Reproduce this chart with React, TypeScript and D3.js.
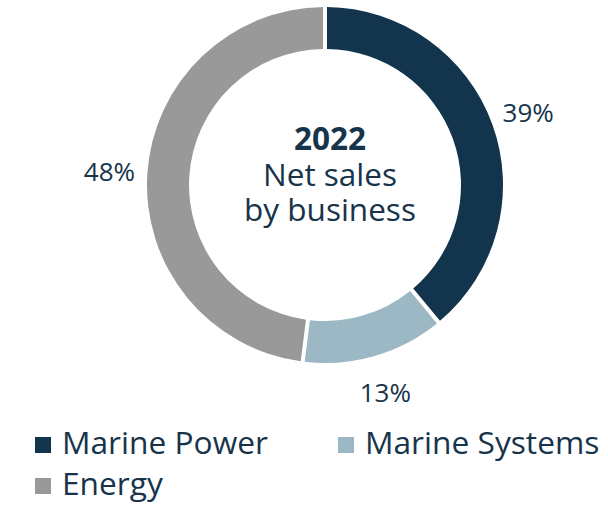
import React from "react";
import * as d3 from "d3";

const categories = ["Marine Power", "Marine Systems", "Energy"];
const values = [39, 13, 48];
const colors = ["#12344d", "#9bb8c4", "#999999"];
const centerLines = ["2022", "Net sales", "by business"];

const W = 608;
const H = 508;
const TEXT = "#17344b";
const FONT = "'Open Sans', 'Noto Sans', sans-serif";

export default function App() {
  const cx = 325;
  const cy = 185;
  const outer = 178;
  const inner = 136;
  const labelR = 216;

  const pie = d3
    .pie<number>()
    .sort(null)
    .value((d) => d)
    .startAngle(0)
    .endAngle(2 * Math.PI);
  const arcs = pie(values);
  const arc = d3
    .arc<d3.PieArcDatum<number>>()
    .innerRadius(inner)
    .outerRadius(outer)
    .padAngle(0.02)
    .padRadius(200);
  const labelArc = d3
    .arc<d3.PieArcDatum<number>>()
    .innerRadius(labelR)
    .outerRadius(labelR);

  const legendX = d3.scaleOrdinal<number>().domain(categories).range([35, 338, 35]);
  const legendY = d3.scaleOrdinal<number>().domain(categories).range([454, 454, 495]);
  const centerY = d3.scaleOrdinal<number>().domain(centerLines).range([149.5, 186, 221]);

  return (
    <svg
      width={W}
      height={H}
      style={{ position: "absolute", left: 0, top: 0, background: "#fff" }}
      fontFamily={FONT}
    >
      <g transform={`translate(${cx},${cy})`}>
        {arcs.map((a, i) => (
          <path key={categories[i]} d={arc(a) || ""} fill={colors[i]} />
        ))}
        {arcs.map((a, i) => {
          const [lx, ly] = labelArc.centroid(a);
          return (
            <text
              key={"l" + i}
              x={lx}
              y={ly}
              textAnchor="middle"
              dominantBaseline="central"
              fontSize={26}
              fill={TEXT}
            >
              {values[i]}%
            </text>
          );
        })}
      </g>
      {centerLines.map((t, i) => (
        <text
          key={t}
          x={330}
          y={centerY(t)}
          textAnchor="middle"
          fontSize={31.5}
          fontWeight={i === 0 ? 700 : 400}
          fill={TEXT}
        >
          {t}
        </text>
      ))}
      {categories.map((c, i) => (
        <g key={c}>
          <rect x={legendX(c)} y={legendY(c) - 17} width={16} height={16} fill={colors[i]} />
          <text x={legendX(c) + 27} y={legendY(c)} fontSize={31.7} fill={TEXT}>
            {c}
          </text>
        </g>
      ))}
    </svg>
  );
}
